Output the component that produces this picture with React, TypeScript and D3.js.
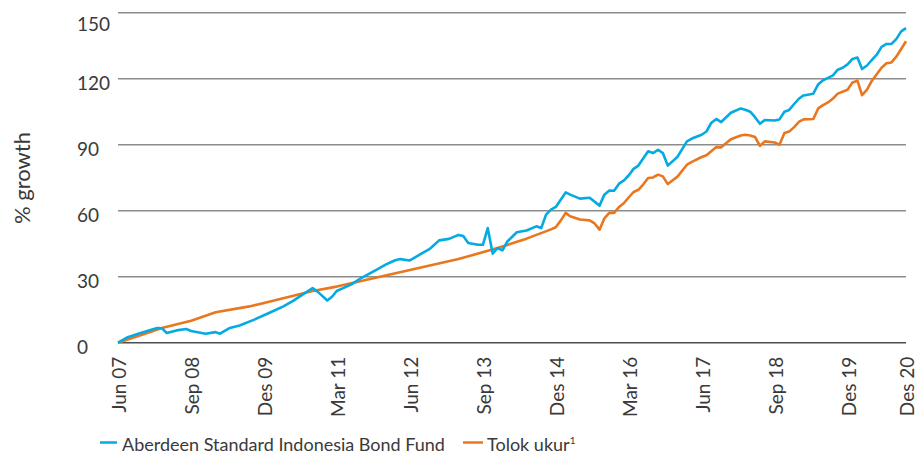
import React, { useEffect, useRef } from "react";
import * as d3 from "d3";

// months counted from Jun 2007
const START = new Date(2007, 5, 1);

const fundMonths = [0, 2, 4, 6, 8, 9, 10, 12, 14, 15, 18, 20, 21, 23, 25, 28, 31, 34, 36, 38, 40, 41, 43, 44, 45, 48, 50, 53, 55, 57, 58, 60, 62, 64, 66, 68, 70, 71, 72, 74, 75, 76, 77, 78, 79, 80, 82, 84, 86, 87, 88, 89, 90, 92, 93, 95, 97, 99, 100, 101, 102, 103, 104, 105, 106, 107, 109, 110, 111, 112, 113, 115, 117, 118, 120, 121, 122, 123, 124, 126, 128, 129, 130, 131, 132, 133, 135, 136, 137, 138, 139, 140, 141, 143, 144, 145, 146, 147, 148, 149, 150, 151, 152, 153, 154, 155, 156, 157, 158, 159, 160, 161, 162];
const fundValues = [0, 2.5, 4.0, 5.3, 6.7, 6.6, 4.4, 5.6, 6.2, 5.3, 4.1, 4.8, 4.1, 6.7, 7.8, 10.5, 13.5, 16.5, 19, 22, 24.8, 23.2, 19.2, 21, 23.5, 26.5, 29.4, 33, 35.5, 37.5, 38, 37.4, 40, 42.5, 46.5, 47.2, 49, 48.5, 45.3, 44.5, 44.5, 52.1, 40.5, 43, 42, 46, 50.2, 51, 52.9, 52.1, 58.2, 60.5, 61.7, 68.3, 67.3, 65.5, 65.9, 62.3, 67.3, 69.2, 69.1, 72.3, 73.8, 76, 79, 80.5, 87, 86.2, 87.7, 86.2, 80.5, 84.5, 91.5, 92.8, 94.5, 96, 100, 101.7, 100.3, 104.5, 106.5, 105.9, 105, 102.5, 99.5, 101.2, 101, 101.5, 105, 105.8, 108.5, 111, 112.4, 113.2, 117.5, 119.3, 120.4, 121.5, 124.1, 125, 126.5, 129, 129.6, 124.4, 126, 128.5, 130.9, 134.5, 135.8, 135.8, 138, 141.5, 143];

const benchMonths = [0, 6, 9, 15, 20, 27, 30, 40, 45, 50, 60, 70, 78, 84, 89, 90, 91, 92, 93, 95, 97, 98, 99, 100, 101, 102, 103, 104, 105, 106, 107, 108, 109, 110, 111, 112, 113, 115, 117, 118, 120, 121, 123, 124, 126, 128, 129, 130, 131, 132, 133, 135, 136, 137, 138, 139, 140, 141, 143, 144, 145, 146, 147, 148, 150, 151, 152, 153, 154, 155, 156, 157, 158, 159, 160, 161, 162];
const benchValues = [0, 4.4, 6.7, 10, 13.8, 16.5, 18, 23.5, 25.5, 28, 33, 38, 43, 47.3, 51.5, 52.5, 55.5, 59, 57.5, 56, 55.6, 54.2, 51.4, 56.5, 59, 59, 61.7, 63.5, 66, 68.5, 69.5, 72, 74.9, 75.1, 76.4, 75.6, 72.1, 75.5, 80.9, 82.2, 84.4, 85.2, 88.9, 88.8, 92.5, 94.2, 94.5, 94.2, 93.5, 89.5, 91.5, 91, 90, 95.3, 96, 98, 100.5, 101.5, 101.7, 106.5, 108, 109.2, 111, 113.2, 115, 118.3, 119.1, 112.5, 115, 119, 122, 125, 127, 127.4, 130, 133.5, 137];

const tickMonths = [0, 15, 30, 45, 60, 75, 90, 105, 120, 135, 150, 162];
const tickLabels = ["Jun 07", "Sep 08", "Des 09", "Mar 11", "Jun 12", "Sep 13", "Des 14", "Mar 16", "Jun 17", "Sep 18", "Des 19", "Des 20"];
const yTicks = [0, 30, 60, 90, 120, 150];

const FONT = "Lato, 'Open Sans', sans-serif";
const BLUE = "#05aae3";
const ORANGE = "#e8771f";

const Chart = ({ width, height }) => {
  const ref = useRef();

  useEffect(() => {
    const svg = d3.select(ref.current);
    svg.selectAll("*").remove();

    const left = 118, right = 906, top = 12.7, bottom = 342.7;
    const toDate = m => d3.timeMonth.offset(START, m);

    const x = d3.scaleTime().domain([toDate(0), toDate(162)]).range([left, right]);
    const y = d3.scaleLinear().domain([0, 150]).range([bottom, top]);

    // grid
    svg.append("g")
      .selectAll("line")
      .data(yTicks)
      .join("line")
      .attr("x1", left)
      .attr("x2", right)
      .attr("y1", d => y(d))
      .attr("y2", d => y(d))
      .attr("stroke", d => (d === 0 ? "#4d4d4d" : "#8c8c8c"))
      .attr("stroke-width", 1.6);

    // y labels, left aligned
    svg.append("g")
      .selectAll("text")
      .data(yTicks)
      .join("text")
      .attr("x", 77)
      .attr("y", d => Math.max(y(d) + 5, 24))
      .attr("dy", "0.35em")
      .attr("font-family", FONT)
      .attr("font-size", 19)
      .attr("fill", "#3a3a3a")
      .text(d => d);

    svg.append("text")
      .attr("transform", `translate(22,178) rotate(-90)`)
      .attr("text-anchor", "middle")
      .attr("dy", "0.35em")
      .attr("font-family", FONT)
      .attr("font-size", 22)
      .attr("fill", "#3a3a3a")
      .text("% growth");

    // x axis
    const xAxis = d3.axisBottom(x)
      .tickValues(tickMonths.map(toDate))
      .tickFormat((d, i) => tickLabels[i])
      .tickSize(0);
    const gx = svg.append("g").attr("transform", `translate(0,${bottom})`).call(xAxis);
    gx.select(".domain").remove();
    gx.selectAll("text")
      .attr("font-family", FONT)
      .attr("font-size", 19)
      .attr("fill", "#3a3a3a")
      .attr("text-anchor", "end")
      .attr("transform", "rotate(-90)")
      .attr("x", -14)
      .attr("y", 1)
      .attr("dy", "0.35em");

    const line = d3.line().x(d => x(toDate(d[0]))).y(d => y(d[1]));

    svg.append("path")
      .datum(benchMonths.map((m, i) => [m, benchValues[i]]))
      .attr("fill", "none")
      .attr("stroke", ORANGE)
      .attr("stroke-width", 2.6)
      .attr("stroke-linejoin", "round")
      .attr("d", line);

    svg.append("path")
      .datum(fundMonths.map((m, i) => [m, fundValues[i]]))
      .attr("fill", "none")
      .attr("stroke", BLUE)
      .attr("stroke-width", 2.6)
      .attr("stroke-linejoin", "round")
      .attr("d", line);

    // legend
    const lg = svg.append("g").attr("font-family", FONT).attr("font-size", 18).attr("fill", "#3a3a3a");
    lg.append("line").attr("x1", 100).attr("x2", 117).attr("y1", 442.5).attr("y2", 442.5).attr("stroke", BLUE).attr("stroke-width", 2.5);
    lg.append("text").attr("x", 122).attr("y", 451).text("Aberdeen Standard Indonesia Bond Fund");
    lg.append("line").attr("x1", 463).attr("x2", 483).attr("y1", 442.5).attr("y2", 442.5).attr("stroke", ORANGE).attr("stroke-width", 2.5);
    const t = lg.append("text").attr("x", 487).attr("y", 451).text("Tolok ukur");
    t.append("tspan").attr("font-size", 10).attr("dy", -7).text("1");
  }, [width, height]);

  return <svg ref={ref} width={width} height={height} style={{ position: "absolute", left: 0, top: 0, background: "#fff" }} />;
};

export default function App() {
  return <Chart width={915} height={454} />;
}
